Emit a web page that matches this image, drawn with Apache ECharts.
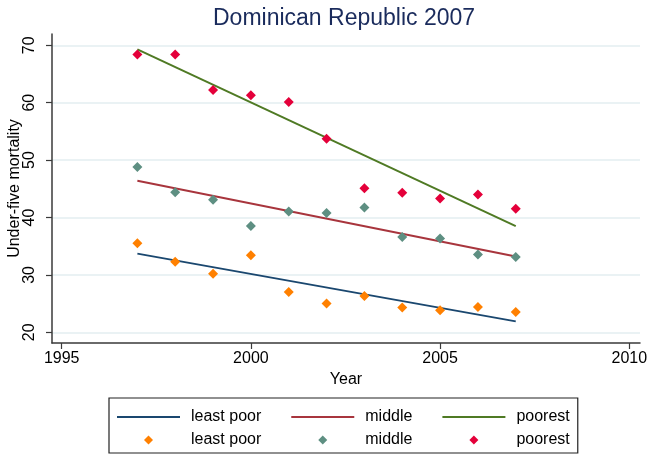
<!DOCTYPE html>
<html>
<head>
<meta charset="utf-8">
<style>
  html, body { margin: 0; padding: 0; background: #ffffff; }
  #chart { width: 652px; height: 456px; }
</style>
<script src="https://cdn.jsdelivr.net/npm/echarts@6/dist/echarts.min.js"></script>
</head>
<body>
<div id="chart"></div>
<script>
// Under-five mortality by wealth group, Dominican Republic DHS 2007
const years = [1997, 1998, 1999, 2000, 2001, 2002, 2003, 2004, 2005, 2006, 2007];
const leastPoor = [35.5, 32.3, 30.2, 33.4, 27.0, 25.0, 26.3, 24.3, 23.85, 24.4, 23.55];
const middle    = [48.8, 44.4, 43.1, 38.5, 41.05, 40.8, 41.75, 36.6, 36.35, 33.55, 33.1];
const poorest   = [68.4, 68.4, 62.2, 61.3, 60.1, 53.7, 45.1, 44.3, 43.3, 44.0, 41.5];

// Linear trend lines (end points)
const fitYears = [1997, 2007];
const fitLeastPoor = [33.7, 21.9];
const fitMiddle    = [46.4, 33.2];
const fitPoorest   = [69.3, 38.5];

const xTicks = [1995, 2000, 2005, 2010];
const yTicks = [20, 30, 40, 50, 60, 70];

const groupNames = ['least poor', 'middle', 'poorest'];
const lineColors = ['#1a476f', '#a8353d', '#4f7a24'];
const dotColors  = ['#ff8000', '#5e8f82', '#e4003a'];

const pair = (xs, ys) => xs.map((x, i) => [x, ys[i]]);
const fits = [fitLeastPoor, fitMiddle, fitPoorest];
const obs  = [leastPoor, middle, poorest];

const FONT = 'Liberation Sans, Arial, Helvetica, sans-serif';
const fitName = n => n + ' (fit)';
const obsName = n => n + ' (obs)';
const plainName = n => n.replace(/ \((fit|obs)\)$/, '');

const series = [];
groupNames.forEach((n, i) => {
  series.push({
    name: fitName(n),
    type: 'line',
    data: pair(fitYears, fits[i]),
    symbol: 'none',
    silent: true,
    lineStyle: { color: lineColors[i], width: 2 },
    itemStyle: { color: lineColors[i] },
    z: 2
  });
});
groupNames.forEach((n, i) => {
  series.push({
    name: obsName(n),
    type: 'scatter',
    data: pair(years, obs[i]),
    symbol: 'diamond',
    symbolSize: 10,
    itemStyle: { color: dotColors[i], opacity: 1 },
    z: 3
  });
});

const legendText = { fontFamily: FONT, fontSize: 16, color: '#000', padding: [0, 0, 0, 6] };
// small diamond centred in a wide, flat key box (63 x 9)
const diamondKey = 'path://M0,4.5L0,4.5M63,4.5L63,4.5M31.5,0L36,4.5L31.5,9L27,4.5Z';

const option = {
  backgroundColor: '#ffffff',
  animation: false,
  title: {
    text: 'Dominican Republic 2007',
    left: 213,
    top: 7,
    padding: 0,
    textStyle: { fontFamily: FONT, fontSize: 23, fontWeight: 'normal', color: '#1a2b5c' }
  },
  grid: { left: 52, top: 34, width: 588, height: 309, containLabel: false, outerBoundsMode: 'none' },
  xAxis: {
    type: 'value',
    min: 1994.744,
    max: 2010.283,
    name: 'Year',
    nameLocation: 'middle',
    nameGap: 29,
    nameMoveOverlap: false,
    nameTextStyle: { fontFamily: FONT, fontSize: 16, color: '#000' },
    axisLine: { show: true, onZero: false, lineStyle: { color: '#3a3a3a', width: 1.5 } },
    axisTick: { show: true, length: 6, customValues: xTicks, lineStyle: { color: '#3a3a3a', width: 1.2 } },
    axisLabel: {
      customValues: xTicks, margin: 8, fontFamily: FONT, fontSize: 16, color: '#000',
      formatter: v => String(Math.round(v))
    },
    splitLine: { show: false }
  },
  yAxis: {
    type: 'value',
    min: 18.13,
    max: 71.97,
    name: 'Under-five mortality',
    nameLocation: 'middle',
    nameGap: 29,
    nameMoveOverlap: false,
    nameTextStyle: { fontFamily: FONT, fontSize: 16, color: '#000' },
    axisLine: { show: true, onZero: false, lineStyle: { color: '#3a3a3a', width: 1.5 } },
    axisTick: { show: true, length: 6, customValues: yTicks, lineStyle: { color: '#3a3a3a', width: 1.2 } },
    axisLabel: {
      customValues: yTicks, rotate: 90, margin: 14, fontFamily: FONT, fontSize: 16, color: '#000',
      formatter: v => String(Math.round(v))
    },
    splitLine: { show: true, lineStyle: { color: '#e3eef1', width: 1.5 } }
  },
  legend: [
    {
      data: groupNames.map(fitName),
      formatter: plainName,
      orient: 'horizontal',
      left: 109,
      top: 398,
      padding: [11, 8, 28, 8],
      borderColor: '#222',
      borderWidth: 1.2,
      icon: 'rect',
      itemWidth: 63,
      itemHeight: 2,
      itemGap: 30,
      selectedMode: false,
      textStyle: legendText
    },
    {
      data: groupNames.map(obsName),
      formatter: plainName,
      orient: 'horizontal',
      left: 117,
      top: 432,
      padding: 0,
      icon: diamondKey,
      symbolKeepAspect: false,
      itemWidth: 63,
      itemHeight: 9,
      itemGap: 30,
      selectedMode: false,
      z: 5,
      textStyle: legendText
    }
  ],
  series: series
};

const chart = echarts.init(document.getElementById('chart'), null, { renderer: 'canvas' });
chart.setOption(option);
</script>
</body>
</html>
